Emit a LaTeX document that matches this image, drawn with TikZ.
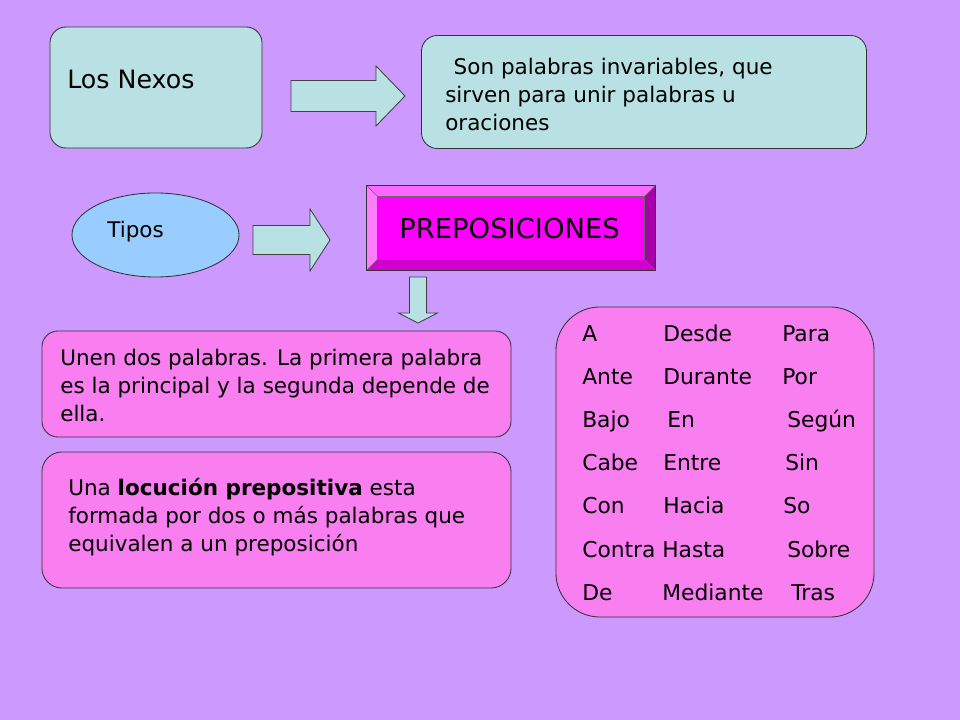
\documentclass[tikz,border=0pt]{standalone}
\usepackage{fontspec}
\setmainfont{DejaVu Sans}
\definecolor{FondoLila}{HTML}{CC99FF}
\definecolor{CianClaro}{HTML}{B9E1E4}
\definecolor{AzulElipse}{HTML}{99CCFF}
\definecolor{RosaCaja}{HTML}{F97EF0}
\definecolor{MagentaPrep}{HTML}{FF00FF}
\definecolor{BiselClaro}{HTML}{FF66FF}
\definecolor{BiselOscuro}{HTML}{D000D0}
\definecolor{BiselSombra}{HTML}{A800A8}
\usetikzlibrary{calc}
\usetikzlibrary{shapes.geometric}
\usetikzlibrary{positioning}
% flecha de bloque: semi-ancho cuerpo, largo cuerpo, semi-ancho punta, largo total
\newcommand{\FlechaBloque}[4]{(0,-#1) -- (#2,-#1) -- (#2,-#3) -- (#4,0) -- (#2,#3) -- (#2,#1) -- (0,#1) -- cycle}
\tikzset{
	caja/.style={draw=black!80, line width=0.6pt, rounded corners=0.4cm, inner sep=0},
	cajaCian/.style={caja, fill=CianClaro},
	cajaRosa/.style={caja, fill=RosaCaja},
	texto/.style={inner sep=0, anchor=base west, align=left, font=\fontsize{15.3}{20}\selectfont},
	textoLista/.style={texto, font=\fontsize{15.5}{18}\selectfont},
	flecha/.style={draw=black!75, line width=0.6pt, fill=CianClaro}
}
\begin{document}
\begin{tikzpicture}[x=0.025cm, y=-0.025cm]
    \fill[FondoLila] (0,0) rectangle (960,720);
    \useasboundingbox (0,0) rectangle (960,720);

    % fila de arriba
    \node[cajaCian, minimum width=5.3cm, minimum height=3.025cm] (cajaNexos) at (156,87.5) {};
    \node[texto, font=\fontsize{18}{21}\selectfont] (txtNexos) at (67,89) {Los Nexos};
    \begin{scope}[shift={(291,96)}]
        \draw[flecha] \FlechaBloque{15.5}{85}{30}{114};
    \end{scope}
    \node[cajaCian, minimum width=11.125cm, minimum height=2.825cm] (cajaDef) at (644,92) {};
    % textos de varias lineas: base = linea de abajo
    \node[texto] (txtDef) at (445,131) {\hspace*{6pt}Son palabras invariables, que\\sirven para unir palabras u\\oraciones};

    % tipos
    \node[ellipse, draw=black!80, line width=0.6pt, fill=AzulElipse, minimum width=4.175cm, minimum height=2.1cm] (elipseTipos) at (155.5,235) {};
    \node[texto] (txtTipos) at (107,238) {Tipos};
    \begin{scope}[shift={(253,240)}]
        \draw[flecha] \FlechaBloque{14.5}{57}{31}{77};
    \end{scope}

    % preposiciones, boton biselado
    \node[minimum width=7.2cm, minimum height=2.1cm, inner sep=0] (cajaPrep) at (511,228) {};
    \coordinate (iNO) at ($(cajaPrep.north west)+(11,11)$);
    \coordinate (iNE) at ($(cajaPrep.north east)+(-11,11)$);
    \coordinate (iSO) at ($(cajaPrep.south west)+(11,-11)$);
    \coordinate (iSE) at ($(cajaPrep.south east)+(-11,-11)$);
    \fill[BiselClaro] (cajaPrep.north west) -- (cajaPrep.north east) -- (iNE) -- (iNO) -- cycle;
    \fill[BiselClaro!85!white] (cajaPrep.north west) -- (iNO) -- (iSO) -- (cajaPrep.south west) -- cycle;
    \fill[BiselOscuro] (cajaPrep.south west) -- (iSO) -- (iSE) -- (cajaPrep.south east) -- cycle;
    \fill[BiselSombra] (cajaPrep.north east) -- (cajaPrep.south east) -- (iSE) -- (iNE) -- cycle;
    \fill[MagentaPrep] (iNO) rectangle (iSE);
    \draw[black!80, line width=0.5pt] (cajaPrep.north west) rectangle (cajaPrep.south east);
    \draw[black!60, line width=0.4pt] (iNO) rectangle (iSE);
    \draw[black!60, line width=0.4pt] (cajaPrep.north west) -- (iNO) (cajaPrep.north east) -- (iNE)
        (cajaPrep.south west) -- (iSO) (cajaPrep.south east) -- (iSE);
    \node[texto, font=\fontsize{19.5}{22}\selectfont] (txtPrep) at (399,239) {PREPOSICIONES};
    \begin{scope}[shift={(418,277)}, rotate=-90]
        \draw[flecha] \FlechaBloque{8.5}{36}{19.5}{46};
    \end{scope}

    % cajas de explicacion
    \node[cajaRosa, minimum width=11.725cm, minimum height=2.65cm] (cajaUnen) at (276.5,384) {};
    \node[texto] (txtUnen) at (60,422) {Unen dos palabras. La primera palabra\\es la principal y la segunda depende de\\ella.};
    \node[cajaRosa, rounded corners=0.5cm, minimum width=11.725cm, minimum height=3.4cm] (cajaLocucion) at (276.5,520) {};
    \node[texto] (txtLocucion) at (68,552) {Una \textbf{locución prepositiva} esta\\formada por dos o más palabras que\\equivalen a un preposición};

    % lista de preposiciones
    \node[cajaRosa, rounded corners=1.1cm, minimum width=7.95cm, minimum height=7.75cm] (cajaLista) at (715,462) {};
    \foreach \a/\b/\c/\xb/\xc [count=\i] in {A/Desde/Para/663/782, Ante/Durante/Por/663/782,
        Bajo/En/Según/667/787, Cabe/Entre/Sin/663/785, Con/Hacia/So/663/783,
        Contra/Hasta/Sobre/662/787, De/Mediante/Tras/662/791} {
        \node[textoLista] (prepA\i) at (582,{342+43*(\i-1)}) {\a};
        \node[textoLista] (prepB\i) at (\xb,{342+43*(\i-1)}) {\b};
        \node[textoLista] (prepC\i) at (\xc,{342+43*(\i-1)}) {\c};
    }
\end{tikzpicture}
\end{document}
